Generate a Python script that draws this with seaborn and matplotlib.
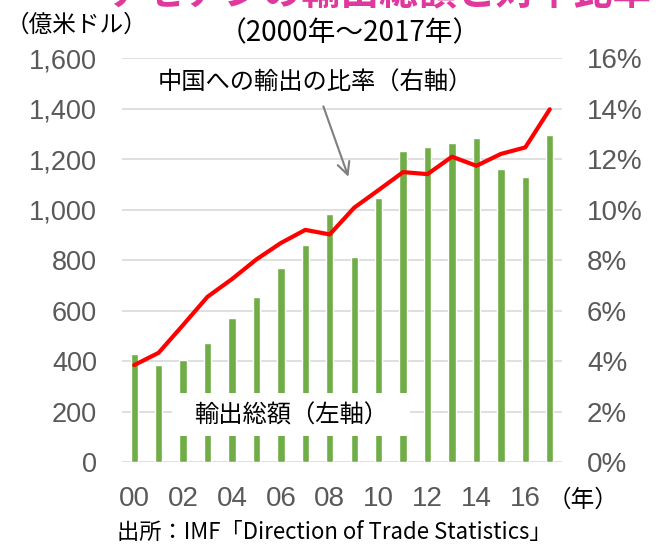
import numpy as np
import pandas as pd
import matplotlib.pyplot as plt
import seaborn as sns
from matplotlib.patches import Rectangle

# ASEAN exports (100 million USD) and share going to China (%)
years = ["00", "01", "02", "03", "04", "05", "06", "07", "08",
         "09", "10", "11", "12", "13", "14", "15", "16", "17"]
exports = [427, 386, 403, 472, 571, 655, 767, 859, 984,
           811, 1046, 1233, 1250, 1266, 1285, 1161, 1130, 1296]
china_share = [3.84, 4.33, 5.43, 6.55, 7.25, 8.03, 8.68, 9.2, 9.02,
               10.08, 10.78, 11.49, 11.41, 12.1, 11.74, 12.21, 12.47, 13.98]
left_ticks = [0, 200, 400, 600, 800, 1000, 1200, 1400, 1600]
right_ticks = [0, 2, 4, 6, 8, 10, 12, 14, 16]

GREEN = "#70AD47"
GRAY_TXT = "#595959"
JP = ["Noto Sans CJK JP", "DejaVu Sans"]
NUM = ["Liberation Sans", "DejaVu Sans"]

sns.set_style("white")
plt.rcParams["font.family"] = JP

df = pd.DataFrame({"year": years, "exports": exports, "share": china_share})

fig = plt.figure(figsize=(6.6, 5.48), dpi=100)
ax = fig.add_axes([0.1848, 0.1569, 0.6667, 0.7367])

sns.barplot(data=df, x="year", y="exports", color=GREEN, width=0.3,
            saturation=1, ax=ax, zorder=2)
ax.set_xlim(-0.5, len(years) - 0.5)
ax.set_ylim(0, 1600)
ax.set_yticks(left_ticks)
ax.set_yticklabels([f"{v:,}" for v in left_ticks], family=NUM,
                   fontsize=19.5, color=GRAY_TXT)
ax.set_xticks(range(len(years)))
ax.set_xticklabels([y if i % 2 == 0 else "" for i, y in enumerate(years)],
                   family=NUM, fontsize=20, color=GRAY_TXT)
ax.tick_params(axis="both", length=0)
ax.tick_params(axis="y", pad=18)
ax.tick_params(axis="x", pad=17)
ax.set_xlabel("")
ax.set_ylabel("")
ax.yaxis.grid(True, color="#D9D9D9", linewidth=1.2, zorder=0)
ax.set_axisbelow(True)
for s in ax.spines.values():
    s.set_visible(False)

ax2 = ax.twinx()
sns.lineplot(x=np.arange(len(years)), y=df["share"], color="#FF0000",
             linewidth=3, ax=ax2, zorder=3)
ax2.set_ylim(0, 16)
ax2.set_yticks(right_ticks)
ax2.set_yticklabels([f"{v}%" for v in right_ticks], family=NUM,
                    fontsize=20, color=GRAY_TXT)
ax2.tick_params(axis="y", length=0, pad=18)
ax2.set_ylabel("")
for s in ax2.spines.values():
    s.set_visible(False)

# white box masking the bars behind the left-axis label
ax2.add_patch(Rectangle((1.54, 1.03), 9.76, 1.7, facecolor="white",
                        edgecolor="none", zorder=4))
ax2.text(6.4, 1.85, "輸出総額（左軸）", ha="center", va="center",
         fontsize=17.5, color="black", zorder=5)

ax2.annotate("", xy=(8.8, 11.2), xytext=(7.7, 14.2),
             arrowprops=dict(arrowstyle="->", color="#7F7F7F", lw=1.5,
                             mutation_scale=22))
ax2.text(7.39, 15.05, "中国への輸出の比率（右軸）", ha="center", va="center",
         fontsize=17.5, color="black")

fig.text(0.575, 1 - 13 / 548, "アセアンの輸出総額と対中比率", ha="center",
         va="bottom", fontsize=28, fontweight="bold", color="#E0399E")
fig.text(0.53, 1 - 33 / 548, "（2000年～2017年）", ha="center", va="center",
         fontsize=20, color="black")
fig.text(0.008, 1 - 25 / 548, "（億米ドル）", ha="left", va="center",
         fontsize=17, color="black")
fig.text(0.83, 1 - 500 / 548, "（年）", ha="left", va="center",
         fontsize=17, color="black")
fig.text(0.178, 1 - 532 / 548, "出所：IMF「Direction of Trade Statistics」",
         ha="left", va="center", fontsize=16, color="black")

fig.savefig("out.png", dpi=100)
